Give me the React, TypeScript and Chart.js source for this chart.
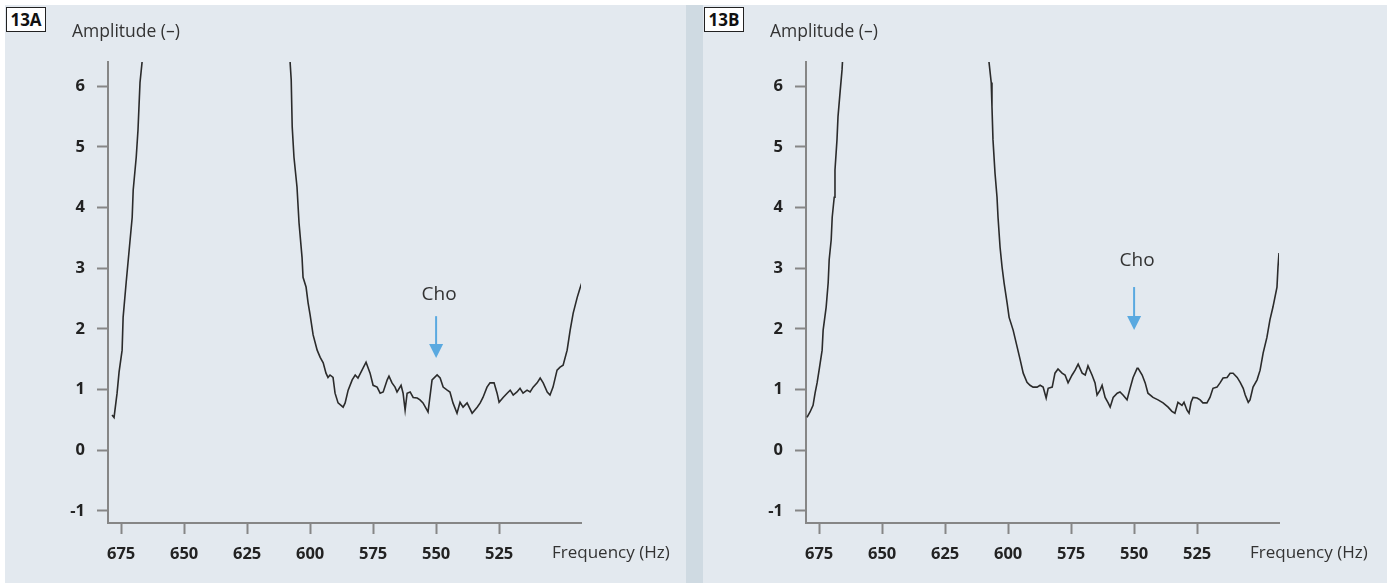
import React, { useEffect, useRef } from "react";
import { Chart, registerables } from "chart.js";

Chart.register(...registerables);

const FONT = "'Open Sans', 'Noto Sans', sans-serif";

// Frequency axis (Hz, decreasing to the right) and amplitude axis ticks
const xTickValues = [675, 650, 625, 600, 575, 550, 525];
const yTickValues = [-1, 0, 1, 2, 3, 4, 5, 6];

// 13A – rising flank on the left
const hzA1 = [678.6, 677.8, 676.6, 675.8, 674.6, 674.2, 673.0, 671.8, 670.6, 670.2, 669.0, 668.3, 667.5, 666.7, 666.0];
const ampA1 = [0.58, 0.54, 0.94, 1.29, 1.65, 2.19, 2.76, 3.3, 3.84, 4.29, 4.83, 5.28, 6.06, 6.39, 6.8];

// 13A – falling flank, baseline and rise on the right
const hzA2 = [
  608.3, 607.9, 607.5, 607.1, 606.4, 605.2, 604.4, 603.2, 602.8, 601.6, 600.8, 600.0, 598.8, 597.2, 596.0, 594.8,
  593.7, 592.9, 592.1, 590.9, 590.1, 588.9, 586.9, 586.1, 584.9, 583.3, 582.1, 581.0, 579.4, 577.8, 576.2, 575.0,
  573.4, 572.2, 571.0, 569.4, 568.7, 567.5, 566.3, 565.5, 563.9, 563.1, 562.3, 561.5, 560.3, 559.1, 557.5, 556.4,
  555.2, 553.6, 553.2, 551.6, 549.6, 548.4, 547.2, 545.6, 544.5, 543.3, 541.7, 540.5, 539.3, 537.7, 535.7, 533.7,
  532.5, 531.4, 529.8, 528.6, 527.0, 525.8, 525.0, 523.4, 521.8, 520.6, 519.4, 517.9, 516.7, 515.5, 513.9, 512.7,
  511.5, 509.9, 508.7, 507.5, 505.9, 504.8, 503.6, 502.0, 500.8, 499.6, 498.0, 496.8, 495.6, 494.0, 492.9, 492.1,
];
const ampA2 = [
  6.8, 6.37, 6.11, 5.33, 4.83, 4.34, 3.75, 3.18, 2.85, 2.69, 2.43, 2.23, 1.9, 1.65, 1.53, 1.44,
  1.27, 1.2, 1.24, 1.2, 0.94, 0.78, 0.71, 0.78, 0.99, 1.16, 1.24, 1.19, 1.32, 1.45, 1.27, 1.07,
  1.04, 0.94, 0.96, 1.16, 1.22, 1.11, 1.04, 0.96, 1.07, 0.94, 0.66, 0.94, 0.96, 0.87, 0.86, 0.83,
  0.78, 0.66, 0.63, 1.16, 1.24, 1.19, 1.04, 0.99, 0.96, 0.78, 0.61, 0.79, 0.71, 0.78, 0.61, 0.71,
  0.78, 0.87, 1.04, 1.11, 1.11, 0.94, 0.79, 0.87, 0.94, 0.99, 0.91, 0.96, 1.02, 0.94, 0.99, 0.96,
  1.04, 1.11, 1.19, 1.11, 0.96, 0.91, 1.04, 1.32, 1.37, 1.4, 1.65, 1.98, 2.26, 2.52, 2.67, 2.77,
];

// 13B – rising flank on the left
const hzB1 = [679.8, 678.6, 677.4, 676.6, 675.8, 675.0, 673.8, 673.4, 672.2, 671.4, 671.0, 670.2, 669.8, 669.0, 668.7, 667.9, 667.5, 666.7, 665.9, 665.2];
const ampB1 = [0.54, 0.63, 0.74, 0.94, 1.11, 1.32, 1.65, 1.98, 2.36, 2.76, 3.14, 3.47, 3.84, 4.17, 4.62, 5.12, 5.5, 5.89, 6.27, 6.8];

// 13B – falling flank, baseline and rise on the right
const hzB2 = [
  608.7, 607.5, 606.7, 606.4, 606.0, 605.2, 604.4, 604.0, 603.2, 602.4, 601.6, 600.4, 599.6, 598.0, 596.4, 595.2,
  594.0, 592.5, 591.3, 590.1, 588.5, 587.3, 586.1, 584.9, 584.1, 582.5, 581.4, 580.2, 578.6, 577.4, 576.2, 574.6,
  573.4, 572.2, 570.6, 569.4, 568.3, 566.7, 565.5, 564.7, 563.5, 562.7, 561.5, 560.3, 559.5, 558.3, 556.7, 555.6,
  554.4, 552.8, 551.6, 550.4, 548.8, 548.4, 546.8, 545.6, 544.5, 542.5, 540.5, 538.5, 536.5, 535.0, 533.8, 532.6,
  531.0, 530.2, 529.0, 528.2, 527.4, 526.6, 525.0, 523.8, 522.7, 521.1, 519.9, 518.7, 517.1, 515.9, 514.7, 513.1,
  511.9, 510.7, 509.1, 507.9, 506.7, 505.9, 505.1, 504.7, 504.0, 502.8, 501.2, 500.0, 498.8, 497.3, 496.1, 494.9,
  493.3, 492.9, 492.5,
];
const ampB2 = [
  6.8, 6.37, 6.06, 5.66, 5.12, 4.57, 4.17, 3.84, 3.35, 3.02, 2.76, 2.43, 2.19, 1.98, 1.7, 1.49,
  1.27, 1.12, 1.07, 1.04, 1.04, 1.07, 1.04, 0.86, 1.02, 1.04, 1.27, 1.34, 1.27, 1.24, 1.11, 1.24,
  1.32, 1.42, 1.27, 1.24, 1.39, 1.24, 1.11, 0.91, 0.99, 1.07, 0.87, 0.78, 0.71, 0.87, 0.94, 0.96,
  0.91, 0.83, 1.02, 1.2, 1.35, 1.35, 1.24, 1.11, 0.94, 0.87, 0.83, 0.78, 0.71, 0.64, 0.61, 0.79,
  0.74, 0.79, 0.66, 0.61, 0.79, 0.87, 0.86, 0.83, 0.78, 0.78, 0.87, 1.02, 1.04, 1.11, 1.19, 1.2,
  1.27, 1.27, 1.2, 1.12, 1.02, 0.91, 0.83, 0.79, 0.83, 1.04, 1.16, 1.32, 1.6, 1.86, 2.15, 2.36,
  2.69, 3.02, 3.25,
];

type Marker = { hz: number; label: string; textAmp: number; arrowFrom: number; arrowTo: number };

const markerA: Marker = { hz: 550, label: "Cho", textAmp: 2.56, arrowFrom: 2.21, arrowTo: 1.52 };
const markerB: Marker = { hz: 550, label: "Cho", textAmp: 3.12, arrowFrom: 2.69, arrowTo: 1.98 };

const zip = (xs: number[], ys: number[]) => xs.map((x, i) => ({ x, y: ys[i] }));

// Axis captions and the peak marker, drawn on top of the plot
const annotationPlugin = {
  id: "spectrumText",
  afterDraw(chart: any, _args: any, opts: any) {
    const { ctx, chartArea, scales } = chart;
    const m: Marker = opts.marker;
    ctx.save();
    ctx.fillStyle = "#333";
    ctx.textBaseline = "middle";
    ctx.textAlign = "left";
    ctx.font = `17.5px ${FONT}`;
    ctx.fillText("Amplitude (–)", chartArea.left - 36, 32);
    ctx.font = `17px ${FONT}`;
    ctx.fillText("Frequency (Hz)", chartArea.right - 29, 553);

    const x = scales.x.getPixelForValue(m.hz);
    const yText = scales.y.getPixelForValue(m.textAmp);
    const yFrom = scales.y.getPixelForValue(m.arrowFrom);
    const yTo = scales.y.getPixelForValue(m.arrowTo);
    ctx.textAlign = "center";
    ctx.font = `19px ${FONT}`;
    ctx.fillStyle = "#333";
    ctx.fillText(m.label, x + 3, yText);

    ctx.strokeStyle = "#5aa9e0";
    ctx.fillStyle = "#5aa9e0";
    ctx.lineWidth = 2;
    ctx.beginPath();
    ctx.moveTo(x, yFrom);
    ctx.lineTo(x, yTo - 12);
    ctx.stroke();
    ctx.beginPath();
    ctx.moveTo(x - 7, yTo - 14);
    ctx.lineTo(x + 7, yTo - 14);
    ctx.lineTo(x, yTo);
    ctx.closePath();
    ctx.fill();
    ctx.restore();
  },
};

function SpectrumChart(props: {
  left: number;
  width: number;
  flank: { x: number; y: number }[];
  main: { x: number; y: number }[];
  marker: Marker;
}) {
  const ref = useRef<HTMLCanvasElement | null>(null);

  useEffect(() => {
    if (!ref.current) return;
    const axisColor = "#868686";
    const tickFont = { family: FONT, size: 16.5, weight: "bold" as const };
    const lineStyle = {
      borderColor: "#2b2b2b",
      borderWidth: 1.6,
      pointRadius: 0,
      tension: 0,
      fill: false,
    };
    const chart = new Chart(ref.current, {
      type: "line",
      data: {
        datasets: [
          { ...lineStyle, data: props.flank },
          { ...lineStyle, data: props.main },
        ],
      },
      options: {
        animation: false,
        responsive: false,
        maintainAspectRatio: false,
        layout: { padding: { top: 62, right: props.width - 581, left: 0, bottom: 0 } },
        plugins: {
          legend: { display: false },
          tooltip: { enabled: false },
          spectrumText: { marker: props.marker },
        } as any,
        scales: {
          x: {
            type: "linear",
            reverse: true,
            min: 492.5,
            max: 680.2,
            afterBuildTicks: (s: any) => {
              s.ticks = xTickValues.map((v) => ({ value: v }));
            },
            afterFit: (s: any) => {
              s.height = 60;
            },
            grid: {
              drawOnChartArea: false,
              drawTicks: true,
              tickLength: 11,
              tickColor: axisColor,
              tickWidth: 2,
            },
            border: { display: true, color: axisColor, width: 2 },
            ticks: {
              font: tickFont,
              color: "#222",
              padding: 10,
              maxRotation: 0,
              autoSkip: false,
              callback: (v: any) => String(v),
            },
          },
          y: {
            type: "linear",
            min: -1.2,
            max: 6.4,
            afterBuildTicks: (s: any) => {
              s.ticks = yTickValues.map((v) => ({ value: v }));
            },
            afterFit: (s: any) => {
              s.width = 108;
            },
            grid: {
              drawOnChartArea: false,
              drawTicks: true,
              tickLength: 11,
              tickColor: axisColor,
              tickWidth: 2,
            },
            border: { display: true, color: axisColor, width: 2 },
            ticks: {
              font: tickFont,
              color: "#222",
              padding: 12,
              callback: (v: any) => String(v),
            },
          },
        },
      },
      plugins: [annotationPlugin],
    });
    return () => chart.destroy();
  }, []);

  return (
    <canvas
      ref={ref}
      width={props.width}
      height={583}
      style={{ position: "absolute", left: props.left, top: 0, width: props.width, height: 583 }}
    />
  );
}

const tagStyle: React.CSSProperties = {
  position: "absolute",
  top: 7,
  width: 38,
  height: 23,
  border: "1px solid #222",
  background: "#fff",
  fontFamily: FONT,
  fontWeight: 700,
  fontSize: 17,
  lineHeight: "23px",
  textAlign: "center",
  color: "#111",
};

export default function App() {
  return (
    <div
      style={{
        position: "fixed",
        left: 0,
        top: 0,
        width: 1387,
        height: 583,
        background: "#ffffff",
        overflow: "hidden",
      }}
    >
      <div style={{ position: "absolute", left: 5, top: 5, width: 681, height: 578, background: "#e3e9ef" }} />
      <div style={{ position: "absolute", left: 686, top: 5, width: 17, height: 578, background: "#cfdae2" }} />
      <div style={{ position: "absolute", left: 703, top: 5, width: 684, height: 578, background: "#e3e9ef" }} />
      <SpectrumChart left={0} width={686} flank={zip(hzA1, ampA1)} main={zip(hzA2, ampA2)} marker={markerA} />
      <SpectrumChart left={698} width={689} flank={zip(hzB1, ampB1)} main={zip(hzB2, ampB2)} marker={markerB} />
      <div style={{ ...tagStyle, left: 6 }}>13A</div>
      <div style={{ ...tagStyle, left: 704 }}>13B</div>
    </div>
  );
}
